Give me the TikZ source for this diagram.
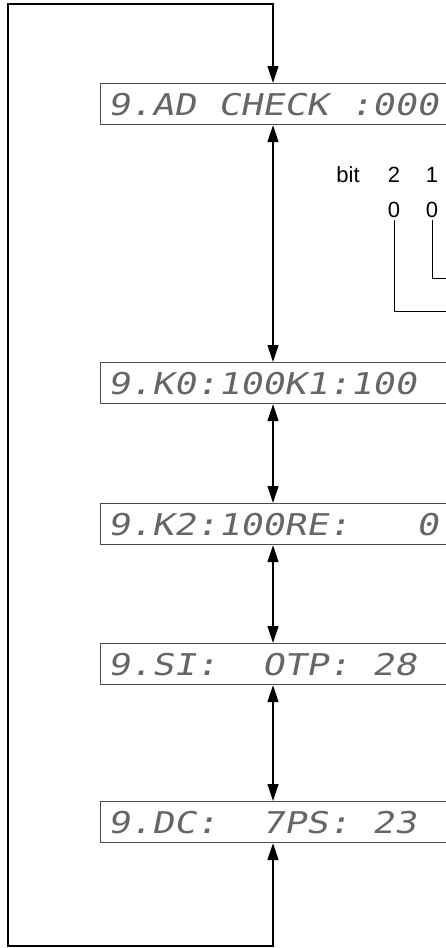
\documentclass[tikz,border=0pt]{standalone}
\usepackage{fontspec}
\setmainfont{Liberation Sans}
\newfontfamily\lcdfont[FakeStretch=1.22,FakeSlant=0.2]{DejaVu Sans Mono}
\usetikzlibrary{arrows.meta}
\newcommand\lcdsp{\hbox to \fontcharwd\font`\0{\hfil}}
\begin{document}
\begin{tikzpicture}[x=1pt,y=-1pt,
  lcdbox/.style={draw=black!70, line width=1.2pt, rectangle,
    minimum width=370pt, minimum height=41pt, text width=356pt,
    inner xsep=7pt, inner ysep=0pt, align=left, anchor=north west,
    font=\lcdfont\fontsize{30}{30}\selectfont\frenchspacing, text=black!60},
  tip/.tip={Triangle[length=17pt,width=11pt]},
  dconn/.style={line width=1.2pt, tip-tip},
  bitline/.style={line width=1pt},
  bitlabel/.style={font=\fontsize{22}{22}\selectfont, inner sep=0pt, anchor=base}]
\useasboundingbox (0,0) rectangle (446,948);
\clip (0,0) rectangle (446,948);

% boxes
\node[lcdbox] (ad) at (100,83)  {9.AD\lcdsp CHECK\lcdsp:000};
\node[lcdbox] (k0) at (100,362) {9.K0:100K1:100};
\node[lcdbox] (k2) at (100,503) {9.K2:100RE:\lcdsp\lcdsp\lcdsp 0};
\node[lcdbox] (si) at (100,643) {9.SI:\lcdsp\lcdsp OTP:\lcdsp 28};
\node[lcdbox] (dc) at (100,801) {9.DC:\lcdsp\lcdsp 7PS:\lcdsp 23};

% helper coordinates
\coordinate (ax) at (273,0);
\coordinate (tr) at (273,4);
\coordinate (tl) at (8,4);
\coordinate (bl) at (8,946);
\coordinate (br) at (273,946);

% connectors
\draw[dconn] (ax |- ad.south) -- (ax |- k0.north);
\draw[dconn] (ax |- k0.south) -- (ax |- k2.north);
\draw[dconn] (ax |- k2.south) -- (ax |- si.north);
\draw[dconn] (ax |- si.south) -- (ax |- dc.north);
\draw[dconn] (ax |- dc.south) -- (br) -- (bl) -- (tl) -- (tr) -- (ax |- ad.north);

% bit labels
\node[bitlabel] (bit) at (348,182) {bit};
\node[bitlabel] (h2) at (394,182) {2};
\node[bitlabel] (h1) at (432,182) {1};
\node[bitlabel] (v2) at (394,217) {0};
\node[bitlabel] (v1) at (432,217) {0};
\coordinate (e2) at (470,311);
\coordinate (e1) at (470,278);
\draw[bitline] ([yshift=-3pt]v2.south) |- (e2);
\draw[bitline] ([yshift=-3pt]v1.south) |- (e1);
\end{tikzpicture}
\end{document}
